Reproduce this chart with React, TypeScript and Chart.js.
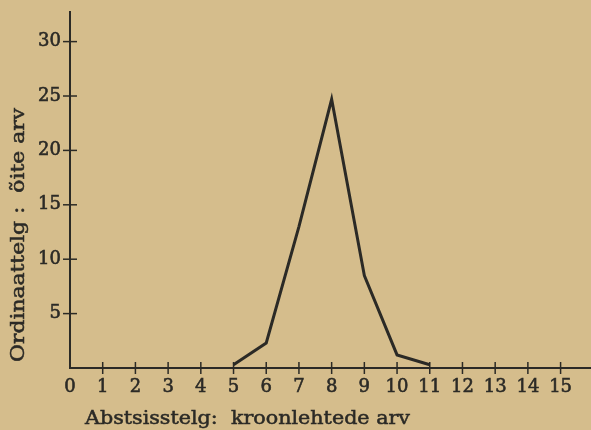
import React, { useEffect, useRef } from "react";
import { Chart, registerables } from "chart.js";

Chart.register(...registerables);

const xValues = [5, 6, 7, 8, 9, 10, 11];
const yValues = [0.3, 2.3, 13, 24.7, 8.5, 1.2, 0.3];
const xTickValues = [0, 1, 2, 3, 4, 5, 6, 7, 8, 9, 10, 11, 12, 13, 14, 15];
const yTickValues = [0, 5, 10, 15, 20, 25, 30];
const xTitle = "Abstsisstelg:  kroonlehtede arv";
const yTitle = "Ordinaattelg :  õite arv";

const INK = "#2b2a26";
const BG = "rgb(213,189,140)";
const FONT = "'DejaVu Serif', serif";

const crossTicks = {
  id: "crossTicks",
  afterDraw(chart: any) {
    const ctx = chart.ctx;
    const x = chart.scales.x;
    const y = chart.scales.y;
    const area = chart.chartArea;
    ctx.save();
    ctx.strokeStyle = INK;
    ctx.lineWidth = 1.5;
    xTickValues.forEach((v) => {
      if (v === 0) return;
      const px = x.getPixelForValue(v);
      ctx.beginPath();
      ctx.moveTo(px, area.bottom - 6);
      ctx.lineTo(px, area.bottom + 6);
      ctx.stroke();
    });
    yTickValues.forEach((v) => {
      if (v === 0) return;
      const py = y.getPixelForValue(v);
      ctx.beginPath();
      ctx.moveTo(area.left - 7, py);
      ctx.lineTo(area.left + 7, py);
      ctx.stroke();
    });
    ctx.fillStyle = INK;
    ctx.lineWidth = 0.5;
    ctx.textBaseline = "alphabetic";
    ctx.textAlign = "left";
    ctx.font = `18px ${FONT}`;
    const xw = ctx.measureText(xTitle).width;
    ctx.save();
    ctx.translate(85, 424);
    ctx.scale(325 / xw, 1);
    ctx.fillText(xTitle, 0, 0);
    ctx.strokeText(xTitle, 0, 0);
    ctx.restore();
    const yw = ctx.measureText(yTitle).width;
    ctx.translate(24, 362);
    ctx.rotate(-Math.PI / 2);
    ctx.scale(254 / yw, 1);
    ctx.fillText(yTitle, 0, 0);
    ctx.strokeText(yTitle, 0, 0);
    ctx.restore();
  },
};

export default function App() {
  const ref = useRef<HTMLCanvasElement>(null);
  useEffect(() => {
    document.body.style.margin = "0";
    document.body.style.background = BG;
    const chart = new Chart(ref.current!, {
      type: "line",
      data: {
        datasets: [
          {
            data: xValues.map((x, i) => ({ x, y: yValues[i] })),
            borderColor: INK,
            borderWidth: 3,
            pointRadius: 0,
            tension: 0,
            fill: false,
          },
        ],
      },
      options: {
        animation: false,
        responsive: false,
        maintainAspectRatio: false,
        layout: { padding: { top: 10, right: 0, left: 0, bottom: 0 } },
        plugins: { legend: { display: false }, tooltip: { enabled: false } },
        scales: {
          x: {
            type: "linear",
            min: 0,
            max: 15.93,
            grid: { display: false },
            border: { display: true, color: INK, width: 2 },
            afterBuildTicks: (s: any) => {
              s.ticks = xTickValues.map((v) => ({ value: v }));
            },
            afterFit: (s: any) => {
              s.height = 62;
            },
            ticks: {
              color: INK,
              font: { family: FONT, size: 18 },
              textStrokeColor: INK,
              textStrokeWidth: 0.6,
              padding: 1,
              maxRotation: 0,
              autoSkip: false,
              callback: (v: any) => String(v),
            },
          },
          y: {
            type: "linear",
            min: 0,
            max: 32.74,
            grid: { display: false },
            border: { display: true, color: INK, width: 2 },
            afterBuildTicks: (s: any) => {
              s.ticks = yTickValues.filter((v) => v > 0).map((v) => ({ value: v }));
            },
            afterFit: (s: any) => {
              s.width = 70;
            },
            ticks: {
              color: INK,
              font: { family: FONT, size: 18 },
              textStrokeColor: INK,
              textStrokeWidth: 0.6,
              padding: 1,
              autoSkip: false,
              callback: (v: any) => String(v),
            },
          },
        },
      },
      plugins: [crossTicks],
    });
    return () => chart.destroy();
  }, []);
  return (
    <div style={{ position: "absolute", left: 0, top: 0, width: 591, height: 430, background: BG }}>
      <canvas ref={ref} width={591} height={430} style={{ width: 591, height: 430 }} />
    </div>
  );
}
